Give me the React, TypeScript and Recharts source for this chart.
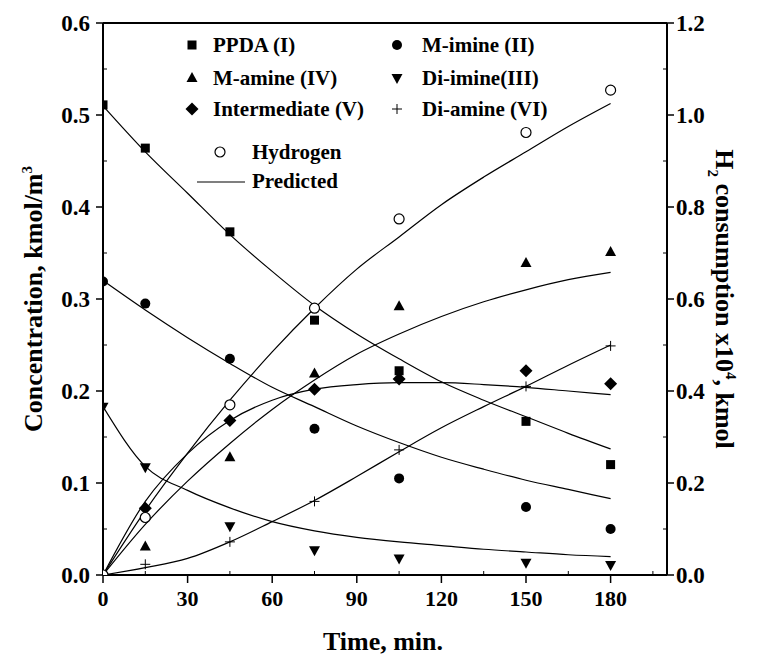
import React from "react";
import {
  ComposedChart,
  Line,
  Scatter,
  XAxis,
  YAxis,
  ReferenceLine,
} from "recharts";

const FONT = '"Liberation Serif", "Times New Roman", serif';

// --- model curves (every 15 min) ---
const tPred = [0, 15, 30, 45, 60, 75, 90, 105, 120, 135, 150, 165, 180];
const ppdaPred = [0.51, 0.46, 0.415, 0.37, 0.33, 0.293, 0.262, 0.235, 0.21, 0.19, 0.172, 0.154, 0.137];
const mIminePred = [0.32, 0.288, 0.258, 0.23, 0.204, 0.183, 0.162, 0.144, 0.128, 0.115, 0.103, 0.093, 0.083];
const mAminePred = [0, 0.055, 0.102, 0.143, 0.18, 0.212, 0.24, 0.262, 0.281, 0.297, 0.31, 0.321, 0.329];
const diIminePred = [0.183, 0.118, 0.092, 0.073, 0.058, 0.048, 0.041, 0.036, 0.032, 0.028, 0.025, 0.022, 0.02];
const interPred = [0, 0.08, 0.132, 0.168, 0.19, 0.202, 0.207, 0.209, 0.209, 0.207, 0.204, 0.2, 0.196];
const diAminePred = [0, 0.008, 0.018, 0.036, 0.058, 0.081, 0.107, 0.134, 0.16, 0.183, 0.205, 0.228, 0.25];
const h2Pred = [0, 0.14, 0.265, 0.38, 0.485, 0.58, 0.665, 0.735, 0.805, 0.865, 0.92, 0.975, 1.025];

// --- measured points ---
const tObs = [0, 15, 45, 75, 105, 150, 180];
const ppdaObs = [0.511, 0.464, 0.373, 0.277, 0.222, 0.167, 0.12];
const mImineObs = [0.319, 0.295, 0.235, 0.159, 0.105, 0.074, 0.05];
const mAmineObs = [0, 0.031, 0.128, 0.219, 0.292, 0.339, 0.351];
const diImineObs = [0.183, 0.117, 0.053, 0.027, 0.018, 0.0134, 0.011];
const interObs = [0, 0.0725, 0.168, 0.202, 0.213, 0.222, 0.208];
const diAmineObs = [0, 0.0116, 0.036, 0.08, 0.136, 0.205, 0.249];
const h2Obs = [0, 0.125, 0.37, 0.58, 0.774, 0.962, 1.054];

const xTicks = [0, 15, 30, 45, 60, 75, 90, 105, 120, 135, 150, 165, 180, 195];
const leftTicks = [0, 0.05, 0.1, 0.15, 0.2, 0.25, 0.3, 0.35, 0.4, 0.45, 0.5, 0.55, 0.6];
const rightTicks = [0, 0.1, 0.2, 0.3, 0.4, 0.5, 0.6, 0.7, 0.8, 0.9, 1.0, 1.1, 1.2];

const predData = tPred.map((t, i) => ({
  t,
  ppda: ppdaPred[i],
  mImine: mIminePred[i],
  mAmine: mAminePred[i],
  diImine: diIminePred[i],
  inter: interPred[i],
  diAmine: diAminePred[i],
  h2: h2Pred[i],
}));

const obs = (vals: number[]) => tObs.map((t, i) => ({ t, v: vals[i] }));

// --- marker shapes ---
const Square = ({ cx, cy }: any) => <rect x={cx - 4.5} y={cy - 4.5} width={9} height={9} fill="#000" />;
const Dot = ({ cx, cy }: any) => <circle cx={cx} cy={cy} r={5} fill="#000" />;
const Up = ({ cx, cy }: any) => (
  <polygon points={`${cx},${cy - 6} ${cx + 5.5},${cy + 4} ${cx - 5.5},${cy + 4}`} fill="#000" />
);
const Down = ({ cx, cy }: any) => (
  <polygon points={`${cx - 5.5},${cy - 4} ${cx + 5.5},${cy - 4} ${cx},${cy + 6}`} fill="#000" />
);
const Diamond = ({ cx, cy }: any) => (
  <polygon points={`${cx},${cy - 6.5} ${cx + 6.5},${cy} ${cx},${cy + 6.5} ${cx - 6.5},${cy}`} fill="#000" />
);
const Plus = ({ cx, cy }: any) => (
  <path d={`M${cx - 5},${cy}H${cx + 5}M${cx},${cy - 5}V${cy + 5}`} stroke="#000" strokeWidth={1} />
);
const Open = ({ cx, cy }: any) => <circle cx={cx} cy={cy} r={5} fill="#fff" stroke="#000" strokeWidth={1.2} />;

// --- ticks with minor marks ---
const XTick = ({ x, y, payload }: any) => {
  const v = payload.value;
  const major = v % 30 === 0 && v <= 180;
  return (
    <g>
      {major ? (
        <>
          <line x1={x} y1={y} x2={x} y2={y + 8} stroke="#000" strokeWidth={1.5} />
          <text x={x} y={y + 31} textAnchor="middle" fontFamily={FONT} fontWeight="bold" fontSize={22}>
            {v}
          </text>
        </>
      ) : (
        <line x1={x} y1={y} x2={x} y2={y - 4} stroke="#000" strokeWidth={1} />
      )}
    </g>
  );
};

const LeftTick = ({ x, y, payload }: any) => {
  const v = payload.value;
  const major = Math.round(v * 20) % 2 === 0;
  return (
    <g>
      {major ? (
        <>
          <line x1={x} y1={y} x2={x - 7} y2={y} stroke="#000" strokeWidth={1.5} />
          <text x={x - 13} y={y + 8} textAnchor="end" fontFamily={FONT} fontWeight="bold" fontSize={23}>
            {v.toFixed(1)}
          </text>
        </>
      ) : (
        <line x1={x} y1={y} x2={x + 4} y2={y} stroke="#000" strokeWidth={1} />
      )}
    </g>
  );
};

const RightTick = ({ x, y, payload }: any) => {
  const v = payload.value;
  const major = Math.round(v * 10) % 2 === 0;
  return (
    <g>
      {major ? (
        <>
          <line x1={x} y1={y} x2={x + 7} y2={y} stroke="#000" strokeWidth={1.5} />
          <text x={x + 9} y={y + 8} textAnchor="start" fontFamily={FONT} fontWeight="bold" fontSize={23}>
            {v.toFixed(1)}
          </text>
        </>
      ) : (
        <line x1={x} y1={y} x2={x - 4} y2={y} stroke="#000" strokeWidth={1} />
      )}
    </g>
  );
};

const legendText = { fontFamily: FONT, fontWeight: "bold" as const, fontSize: 21 };

function Overlay() {
  const row = (y: number, mx: number, tx: number, Mark: any, label: string) => (
    <g key={label}>
      <Mark cx={mx} cy={y} />
      <text x={tx} y={y + 7} {...legendText}>
        {label}
      </text>
    </g>
  );
  return (
    <svg width={757} height={664} style={{ position: "absolute", left: 0, top: 0, pointerEvents: "none" }}>
      {row(45, 192, 213, Square, "PPDA (I)")}
      {row(78, 192, 213, Up, "M-amine (IV)")}
      {row(109, 192, 213, Diamond, "Intermediate (V)")}
      {row(45, 397, 422, Dot, "M-imine (II)")}
      {row(78, 397, 422, Down, "Di-imine(III)")}
      {row(109, 397, 422, Plus, "Di-amine (VI)")}
      {row(152, 220, 252, Open, "Hydrogen")}
      <line x1={197} y1={182} x2={245} y2={182} stroke="#000" strokeWidth={1.2} />
      <text x={252} y={188} {...legendText}>
        Predicted
      </text>

      <text x={383} y={650} textAnchor="middle" fontFamily={FONT} fontWeight="bold" fontSize={26}>
        Time, min.
      </text>
      <text
        transform="translate(42,299) rotate(-90)"
        textAnchor="middle"
        fontFamily={FONT}
        fontWeight="bold"
        fontSize={26}
      >
        Concentration, kmol/m<tspan dy={-10} fontSize={15}>3</tspan>
      </text>
      <text
        transform="translate(716,299) rotate(90)"
        textAnchor="middle"
        fontFamily={FONT}
        fontWeight="bold"
        fontSize={26}
      >
        H<tspan dy={8} fontSize={15}>2</tspan>
        <tspan dy={-8}> consumption x10</tspan>
        <tspan dy={-10} fontSize={15}>4</tspan>
        <tspan dy={10}>, kmol</tspan>
      </text>
    </svg>
  );
}

export default function App() {
  const lineProps = {
    type: "monotone" as const,
    dot: false,
    stroke: "#000",
    strokeWidth: 1.2,
    isAnimationActive: false,
    activeDot: false,
  };
  return (
    <div style={{ position: "absolute", left: 0, top: 0, width: 757, height: 664, background: "#fff" }}>
      <ComposedChart width={757} height={664} data={predData} margin={{ top: 23, right: 0, bottom: 0, left: 0 }}>
        <XAxis
          dataKey="t"
          type="number"
          domain={[0, 200]}
          ticks={xTicks}
          interval={0}
          tick={<XTick />}
          tickLine={false}
          tickSize={0}
          tickMargin={0}
          height={89}
          axisLine={{ stroke: "#000", strokeWidth: 2 }}
          allowDataOverflow
        />
        <YAxis
          yAxisId="left"
          domain={[0, 0.6]}
          ticks={leftTicks}
          interval={0}
          tick={<LeftTick />}
          tickLine={false}
          tickSize={0}
          tickMargin={0}
          width={103}
          axisLine={{ stroke: "#000", strokeWidth: 2 }}
          allowDataOverflow
        />
        <YAxis
          yAxisId="right"
          orientation="right"
          domain={[0, 1.2]}
          ticks={rightTicks}
          interval={0}
          tick={<RightTick />}
          tickLine={false}
          tickSize={0}
          tickMargin={0}
          width={90}
          axisLine={{ stroke: "#000", strokeWidth: 2 }}
          allowDataOverflow
        />
        <ReferenceLine yAxisId="left" y={0.6} stroke="#000" strokeWidth={2} />

        <Line yAxisId="left" dataKey="ppda" {...lineProps} />
        <Line yAxisId="left" dataKey="mImine" {...lineProps} />
        <Line yAxisId="left" dataKey="mAmine" {...lineProps} />
        <Line yAxisId="left" dataKey="diImine" {...lineProps} />
        <Line yAxisId="left" dataKey="inter" {...lineProps} />
        <Line yAxisId="left" dataKey="diAmine" {...lineProps} />
        <Line yAxisId="right" dataKey="h2" {...lineProps} />

        <Scatter yAxisId="left" data={obs(ppdaObs)} dataKey="v" shape={<Square />} isAnimationActive={false} />
        <Scatter yAxisId="left" data={obs(mImineObs)} dataKey="v" shape={<Dot />} isAnimationActive={false} />
        <Scatter yAxisId="left" data={obs(mAmineObs)} dataKey="v" shape={<Up />} isAnimationActive={false} />
        <Scatter yAxisId="left" data={obs(diImineObs)} dataKey="v" shape={<Down />} isAnimationActive={false} />
        <Scatter yAxisId="left" data={obs(interObs)} dataKey="v" shape={<Diamond />} isAnimationActive={false} />
        <Scatter yAxisId="left" data={obs(diAmineObs)} dataKey="v" shape={<Plus />} isAnimationActive={false} />
        <Scatter yAxisId="right" data={obs(h2Obs)} dataKey="v" shape={<Open />} isAnimationActive={false} />
      </ComposedChart>
      <Overlay />
    </div>
  );
}
